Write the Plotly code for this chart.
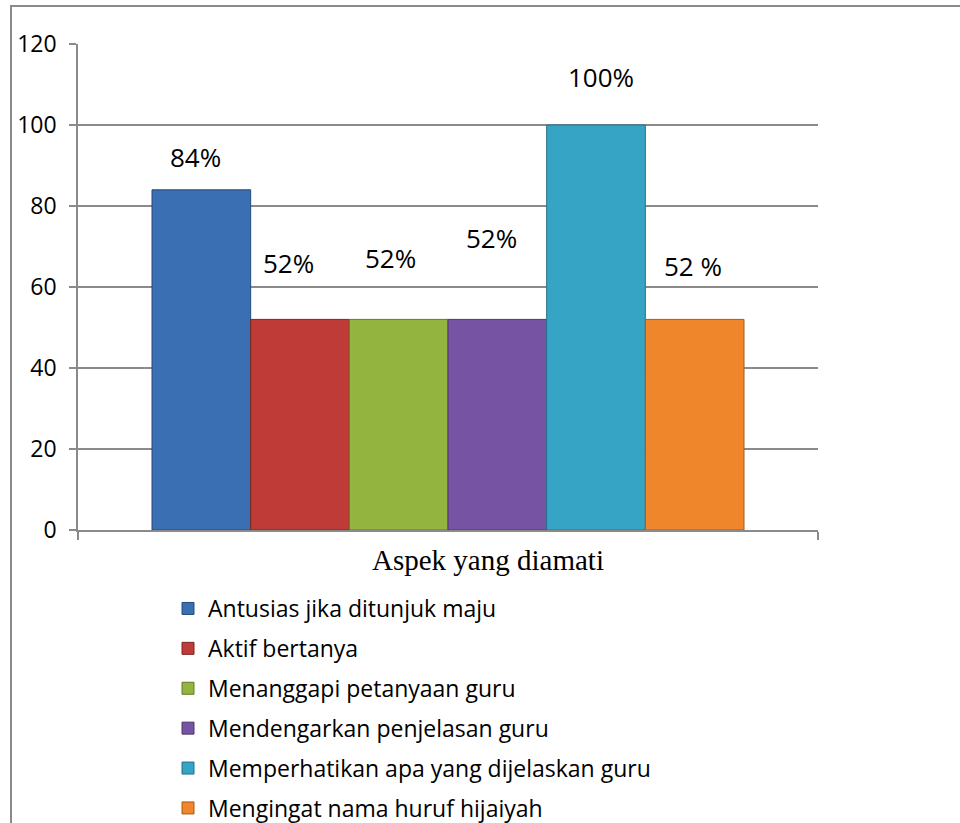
import plotly.graph_objects as go

category = ["Aspek yang diamati"]
series_names = [
    "Antusias jika ditunjuk maju",
    "Aktif bertanya",
    "Menanggapi petanyaan guru",
    "Mendengarkan penjelasan guru",
    "Memperhatikan apa yang dijelaskan guru",
    "Mengingat nama huruf hijaiyah",
]
series_values = [84, 52, 52, 52, 100, 52]
label_texts = ["84%", "52%", "52%", "52%", "100%", "52 %"]
y_ticks = [0, 20, 40, 60, 80, 100, 120]

colors = ["#3B6FB3", "#BE3B37", "#93B53F", "#7653A3", "#36A5C5", "#F0862B"]
edges = ["#244A7A", "#7E2523", "#627A28", "#4E376D", "#22718A", "#A85A18"]
label_dx = [-6, -12, -8, -6, 5, -2]
label_dy = [33, 56, 61, 81, 48, 53]

W, H = 960, 823
PL, PR, PT, PB = 78, 818, 44, 530  # plot area in pixels

fig = go.Figure()
for i, (name, val) in enumerate(zip(series_names, series_values)):
    fig.add_trace(go.Bar(
        x=category, y=[val], name=name,
        marker=dict(color=colors[i], line=dict(color=edges[i], width=1)),
        legendgroup=f"g{i}",
    ))

n = len(series_names)
for i, (val, txt) in enumerate(zip(series_values, label_texts)):
    xc = -0.4 + 0.8 * (i + 0.5) / n
    fig.add_annotation(x=xc, y=val, xref="x", yref="y", text=txt, showarrow=False,
                       xanchor="center", yanchor="middle", xshift=label_dx[i], yshift=label_dy[i],
                       font=dict(family="Open Sans", size=26, color="#000000"))

fig.add_annotation(x=0.5, y=0, xref="paper", yref="paper", text=category[0], showarrow=False,
                   xanchor="center", yanchor="middle", xshift=40, yshift=-30,
                   font=dict(family="Liberation Serif", size=29, color="#000000"))

# outer chart border
fig.add_shape(type="rect", xref="paper", yref="paper",
              x0=(11 - PL) / (PR - PL), x1=1.3, y0=-0.8, y1=(PB - 6) / (PB - PT),
              line=dict(color="#8a8a8a", width=2), fillcolor="rgba(0,0,0,0)", layer="below")

fig.update_layout(
    width=W, height=H,
    margin=dict(l=PL, r=W - PR, t=PT, b=H - PB, autoexpand=False),
    paper_bgcolor="white", plot_bgcolor="white",
    barmode="group", bargap=0.2, bargroupgap=0,
    showlegend=True,
    legend=dict(
        xref="container", yref="container",
        x=168 / W, y=1 - 587 / H, xanchor="left", yanchor="top",
        orientation="v", traceorder="grouped", tracegroupgap=7,
        font=dict(family="Open Sans", size=23, color="#000000"),
        bgcolor="rgba(0,0,0,0)", maxheight=1000,
    ),
    xaxis=dict(
        type="category", showticklabels=False, tickson="boundaries",
        ticks="outside", ticklen=8, tickcolor="#8a8a8a", tickwidth=1.5,
        showline=True, linecolor="#8a8a8a", linewidth=1.5, showgrid=False,
    ),
    yaxis=dict(
        range=[0, 120], tickvals=y_ticks, ticks="outside", ticklen=7,
        tickcolor="#8a8a8a", tickwidth=1.5, showline=True, linecolor="#8a8a8a", linewidth=1.5,
        showgrid=True, gridcolor="#8a8a8a", gridwidth=1.5, zeroline=False,
        tickfont=dict(family="Open Sans", size=23, color="#000000"),
        ticklabelstandoff=8,
    ),
)

fig.write_html("out.html", config={"displayModeBar": False},
               post_script="document.body.style.margin='0';")
